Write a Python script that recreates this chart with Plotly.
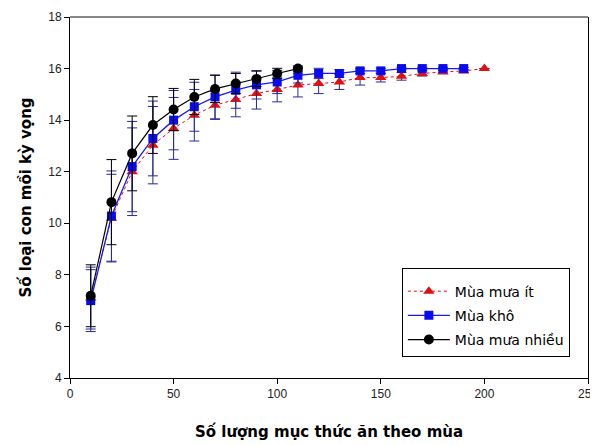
import plotly.graph_objects as go

# Data
x_red = [10, 20, 30, 40, 50, 60, 70, 80, 90, 100, 110, 120, 130, 140, 150, 160, 170, 180, 190, 200]
y_red = [7.1, 10.2, 12.0, 13.03, 13.68, 14.19, 14.58, 14.8, 15.03, 15.19, 15.36, 15.42, 15.48, 15.65, 15.65, 15.7, 15.81, 15.87, 15.91, 16.0]
e_red = [1.2, 1.7, 1.7, 1.5, 1.2, 1.0, 0.55, 0.67, 0.6, 0.48, 0.46, 0.39, 0.29, 0.29, 0.17, 0.15, 0.1, 0.05, 0.05, 0.0]

x_blue = [10, 20, 30, 40, 50, 60, 70, 80, 90, 100, 110, 120, 130, 140, 150, 160, 170, 180, 190]
y_blue = [7.0, 10.28, 12.2, 13.29, 14.0, 14.52, 14.9, 15.16, 15.37, 15.48, 15.74, 15.81, 15.81, 15.91, 15.91, 16.0, 16.0, 16.0, 16.0]
e_blue = [1.2, 1.75, 1.75, 1.45, 1.15, 0.95, 0.85, 0.7, 0.55, 0.45, 0.3, 0.2, 0.15, 0.1, 0.1, 0.05, 0.05, 0.05, 0.05]

x_black = [10, 20, 30, 40, 50, 60, 70, 80, 90, 100, 110]
y_black = [7.19, 10.82, 12.71, 13.81, 14.41, 14.9, 15.21, 15.42, 15.6, 15.81, 16.0]
e_black = [1.2, 1.65, 1.45, 1.1, 0.82, 0.68, 0.53, 0.39, 0.3, 0.2, 0.1]

names = ["Mùa mưa ít", "Mùa khô", "Mùa mưa nhiều"]
x_ticks = [0, 50, 100, 150, 200, 250]
y_ticks = [4, 6, 8, 10, 12, 14, 16, 18]

NAVY = "#2a2a9a"
TITLE_FONT = dict(family="DejaVu Sans", size=15, color="black", weight="bold")

fig = go.Figure()
fig.add_trace(go.Scatter(
    x=x_red, y=y_red, name=names[0], mode="lines+markers", legendgroup="a",
    line=dict(color="#e01010", width=1, dash="dot"),
    marker=dict(symbol="triangle-up", size=10, color="#e01010"),
    error_y=dict(type="data", array=e_red, color=NAVY, thickness=1, width=5),
))
fig.add_trace(go.Scatter(
    x=x_blue, y=y_blue, name=names[1], mode="lines+markers", legendgroup="b",
    line=dict(color="#1a1aee", width=1.3),
    marker=dict(symbol="square", size=9, color="#0a0af0"),
    error_y=dict(type="data", array=e_blue, color=NAVY, thickness=1, width=5),
))
fig.add_trace(go.Scatter(
    x=x_black, y=y_black, name=names[2], mode="lines+markers", legendgroup="c",
    line=dict(color="black", width=1.2),
    marker=dict(symbol="circle", size=10, color="black"),
    error_y=dict(type="data", array=e_black, color="black", thickness=1, width=5),
))

fig.update_layout(
    width=598, height=445,
    margin=dict(l=62, r=18, t=9, b=75),
    paper_bgcolor="white", plot_bgcolor="white",
    showlegend=True,
    legend=dict(
        x=0.965, y=0.058, xanchor="right", yanchor="bottom",
        bgcolor="white", bordercolor="black", borderwidth=1,
        font=dict(family="DejaVu Sans", size=14, color="black"),
        tracegroupgap=3, itemwidth=42,
        title=dict(text=" ", font=dict(size=5)),
    ),
    xaxis=dict(
        range=[0, 250], tickvals=x_ticks, ticktext=[str(v) for v in x_ticks],
        showgrid=False, zeroline=False, showline=True, linecolor="black", linewidth=1,
        mirror=False, ticks="outside", ticklen=5, tickcolor="black",
        tickfont=dict(family="Liberation Sans", size=12, color="#222"),
        automargin=False,
        title=dict(text="Số lượng mục thức ăn theo mùa", standoff=26, font=TITLE_FONT),
    ),
    yaxis=dict(
        range=[4, 18], tickvals=y_ticks, ticktext=[str(v) for v in y_ticks],
        showgrid=False, zeroline=False, showline=True, linecolor="black", linewidth=1,
        mirror=True, ticks="outside", ticklen=5, tickcolor="black",
        tickfont=dict(family="Liberation Sans", size=12, color="#222"),
        automargin=False,
        title=dict(text="Số loại con mồi kỳ vọng", standoff=12, font=TITLE_FONT),
    ),
    shapes=[dict(type="line", xref="paper", yref="paper", x0=0, x1=1, y0=1, y1=1,
                 line=dict(color="#888", width=2))],
)

fig.write_html("out.html")
